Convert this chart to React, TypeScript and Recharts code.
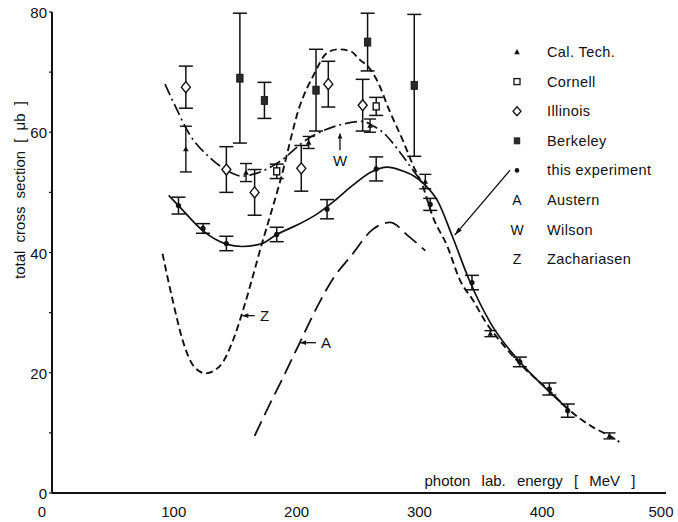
import React from "react"
import {
  ComposedChart,
  Line,
  Scatter,
  ErrorBar,
  XAxis,
  YAxis,
  ReferenceLine,
} from "recharts"

// measured cross sections: photon energy [MeV], sigma [μb], error [μb]
const expEnergy = [103, 123, 142, 183, 224, 264, 308, 342, 381, 405, 420]
const expSigma = [47.8, 44.0, 41.5, 43.0, 47.2, 53.9, 48.0, 35.0, 21.8, 17.3, 13.7]
const expError = [1.4, 0.8, 1.2, 1.2, 1.6, 2.0, 1.0, 1.2, 0.8, 1.0, 1.1]

const calTechEnergy = [109, 158, 209, 259, 304, 357, 454]
const calTechSigma = [57.2, 53.3, 58.3, 61.1, 51.8, 26.5, 9.5]
const calTechError = [3.8, 1.5, 1.0, 1.1, 1.2, 0.5, 0.5]

const cornellEnergy = [183, 264]
const cornellSigma = [53.5, 64.3]
const cornellError = [1.2, 1.5]

const illinoisEnergy = [109, 142, 165, 203, 225, 253]
const illinoisSigma = [67.5, 53.8, 50.0, 54.0, 68.0, 64.5]
const illinoisError = [3.5, 3.8, 3.8, 3.8, 3.8, 4.3]

const berkeleyEnergy = [153, 173, 215, 257, 295]
const berkeleySigma = [69.0, 65.3, 67.0, 75.0, 67.8]
const berkeleyError = [10.8, 3.0, 6.8, 4.8, 11.8]

// theory curves and fit
const fitEnergy = [95, 103, 123, 142, 155, 171, 183, 200, 215, 230, 245, 260, 273, 285, 294, 304, 314, 326, 340, 357, 381, 400, 420]
const fitSigma = [49.5, 47.8, 43.6, 41.4, 41.0, 41.5, 43.0, 44.6, 46.3, 48.6, 51.2, 53.4, 54.2, 53.6, 52.8, 51.2, 48.6, 42.7, 35.3, 28.3, 21.8, 17.8, 14.0]

const wilsonEnergy = [92, 100, 111, 129, 142, 155, 167, 183, 209, 234, 253, 262, 272, 281, 294, 302]
const wilsonSigma = [68, 64.5, 60, 55.7, 53.7, 52.7, 53.2, 54.8, 59, 61.2, 61.8, 61, 59.5, 57.3, 53.7, 51.5]

const zachEnergy = [90, 98, 107, 115, 125, 137, 148, 156, 171, 186, 202, 213, 224, 233, 243, 251, 257, 265, 275, 286, 294, 302, 310, 322, 332, 343, 353, 368, 381, 405, 420, 440, 454, 462]
const zachSigma = [39.8, 32.3, 25, 21.2, 19.9, 21.2, 25.7, 30.7, 41.5, 52, 64.5, 69.5, 73.2, 73.8, 73.5, 72, 71, 68.5, 63.5, 58.5, 54.5, 51, 46, 41, 35.5, 32, 28.5, 24.5, 21.5, 17, 14, 11, 9.5, 8.5]

const austernEnergy = [165, 175, 186, 202, 216, 230, 243, 261, 275, 291, 304]
const austernSigma = [9.5, 13.8, 18.3, 25.1, 31, 36, 39.3, 43.8, 45, 42.6, 40.3]

const xTicks = [0, 100, 200, 300, 400, 500]
const yTicks = [0, 10, 20, 30, 40, 50, 60, 70, 80]

const legendNames = ["Cal. Tech.", "Cornell", "Illinois", "Berkeley", "this experiment", "Austern", "Wilson", "Zachariasen"]

const FONT = "'Liberation Sans', Arial, sans-serif"
const INK = "#111"

const points = (e: number[], s: number[], err?: number[]) =>
  e.map((x, i) => ({ x, y: s[i], err: err ? err[i] : 0 }))

const expData = points(expEnergy, expSigma, expError)
const calTechData = points(calTechEnergy, calTechSigma, calTechError)
const cornellData = points(cornellEnergy, cornellSigma, cornellError)
const illinoisData = points(illinoisEnergy, illinoisSigma, illinoisError)
const berkeleyData = points(berkeleyEnergy, berkeleySigma, berkeleyError)
const fitData = points(fitEnergy, fitSigma)
const wilsonData = points(wilsonEnergy, wilsonSigma)
const zachData = points(zachEnergy, zachSigma)
const austernData = points(austernEnergy, austernSigma)

// marker glyphs
const Dot = ({ cx = 0, cy = 0 }: any) => <circle cx={cx} cy={cy} r={2.6} fill={INK} />
const Tri = ({ cx = 0, cy = 0 }: any) => (
  <polygon points={`${cx},${cy - 3} ${cx - 2.8},${cy + 2.2} ${cx + 2.8},${cy + 2.2}`} fill={INK} />
)
const OpenSquare = ({ cx = 0, cy = 0 }: any) => (
  <rect x={cx - 3} y={cy - 3.5} width={6} height={7} fill="#fff" stroke={INK} strokeWidth={1.4} />
)
const Diamond = ({ cx = 0, cy = 0 }: any) => (
  <polygon
    points={`${cx},${cy - 5.5} ${cx + 4.5},${cy} ${cx},${cy + 5.5} ${cx - 4.5},${cy}`}
    fill="#fff"
    stroke={INK}
    strokeWidth={1.4}
  />
)
const FilledSquare = ({ cx = 0, cy = 0 }: any) => (
  <rect x={cx - 3.2} y={cy - 4} width={6.4} height={8} fill="#2a2a2a" stroke={INK} strokeWidth={0.8} />
)

// arrow drawn along a reference segment, with an optional letter at its tail
const arrowShape = (text: string, tx: number, ty: number, head = 6) => (p: any) => {
  const { x1 = 0, y1 = 0, x2 = 0, y2 = 0 } = p
  const a = Math.atan2(y2 - y1, x2 - x1)
  const w = 2.4
  const bx = x2 - head * Math.cos(a)
  const by = y2 - head * Math.sin(a)
  const pts = `${x2},${y2} ${bx - w * Math.sin(a)},${by + w * Math.cos(a)} ${bx + w * Math.sin(a)},${by - w * Math.cos(a)}`
  return (
    <g>
      <line x1={x1} y1={y1} x2={x2} y2={y2} stroke={INK} strokeWidth={1.3} />
      <polygon points={pts} fill={INK} />
      {text ? (
        <text x={x1 + tx} y={y1 + ty} fontSize={15} fontFamily={FONT} fill={INK} textAnchor="middle">
          {text}
        </text>
      ) : null}
    </g>
  )
}

const YTick = (p: any) => {
  const v = p.payload?.value
  if (v % 20 !== 0) return <g />
  return (
    <text x={p.x} y={p.y} dy={6} textAnchor="end" fontSize={15} fontFamily={FONT} fill={INK}>
      {v}
    </text>
  )
}

// x labels sit slightly left of their ticks, the 0 clear of the axis
const XTick = (p: any) => {
  const v = p.payload?.value
  const shift = v === 0 ? -10 : v === 500 ? -5 : -1
  return (
    <text x={p.x + shift} y={p.y} dy={12} textAnchor="middle" fontSize={15} fontFamily={FONT} fill={INK}>
      {v}
    </text>
  )
}

const legendSymbols = [
  <polygon key="t" points="0,-3 -2.8,2.2 2.8,2.2" fill={INK} />,
  <rect key="c" x={-3} y={-3} width={6} height={6} fill="#fff" stroke={INK} strokeWidth={1.3} />,
  <polygon key="d" points="0,-4.5 4,0 0,4.5 -4,0" fill="#fff" stroke={INK} strokeWidth={1.3} />,
  <rect key="b" x={-3.2} y={-3.5} width={6.4} height={7} fill="#2a2a2a" />,
  <circle key="e" r={2.3} fill={INK} />,
  <text key="a" y={5} textAnchor="middle" fontSize={14}>A</text>,
  <text key="w" y={5} textAnchor="middle" fontSize={14}>W</text>,
  <text key="z" y={5} textAnchor="middle" fontSize={14}>Z</text>,
]

function Key() {
  return (
    <svg
      width={678}
      height={522}
      style={{ position: "absolute", left: 0, top: 0, pointerEvents: "none" }}
      fontFamily={FONT}
      fill={INK}
    >
      {legendNames.map((name, i) => {
        const y = 52 + i * 29.6
        return (
          <g key={name}>
            <g transform={`translate(517,${y})`}>{legendSymbols[i]}</g>
            <text x={547} y={y + 5} fontSize={14.5} letterSpacing={0.4}>
              {name}
            </text>
          </g>
        )
      })}
    </svg>
  )
}

export default function App() {
  return (
    <div style={{ position: "absolute", left: 0, top: 0, width: 678, height: 522, background: "#fff" }}>
      <ComposedChart width={678} height={522} margin={{ top: 12, right: 12, bottom: 0, left: 12 }}>
        <XAxis
          dataKey="x"
          type="number"
          domain={[0, 500]}
          ticks={xTicks}
          allowDataOverflow
          height={29}
          tickLine={false}
          tickMargin={6}
          axisLine={{ stroke: INK, strokeWidth: 2 }}
          tick={XTick}
          label={(props: any) => {
            const vb = props.viewBox || { x: 52, y: 493, width: 614 }
            return (
              <text
                x={vb.x + vb.width - 136}
                y={vb.y - 7}
                textAnchor="middle"
                fontSize={15}
                fontFamily={FONT}
                fill={INK}
                wordSpacing={7}
              >
                photon lab. energy [ MeV ]
              </text>
            )
          }}
        />
        <XAxis
          xAxisId="top"
          orientation="top"
          type="number"
          domain={[0, 500]}
          height={0}
          tick={false}
          tickLine={false}
          axisLine={{ stroke: INK, strokeWidth: 1.6 }}
        />
        <YAxis
          dataKey="y"
          type="number"
          domain={[0, 80]}
          ticks={yTicks}
          allowDataOverflow
          width={40}
          tickSize={3}
          tickMargin={2}
          tickLine={{ stroke: INK, strokeWidth: 1.2 }}
          axisLine={{ stroke: INK, strokeWidth: 2 }}
          tick={YTick}
          label={(props: any) => {
            const vb = props.viewBox || { x: 12, y: 12 }
            const cx = vb.x + 9
            const cy = 190
            return (
              <text
                x={cx}
                y={cy}
                transform={`rotate(-90 ${cx} ${cy})`}
                textAnchor="middle"
                dominantBaseline="middle"
                fontSize={15}
                fontFamily={FONT}
                fill={INK}
                wordSpacing={4}
              >
                total cross section [ μb ]
              </text>
            )
          }}
        />
        <YAxis
          yAxisId="right"
          orientation="right"
          type="number"
          domain={[0, 80]}
          width={0}
          tick={false}
          tickLine={false}
          axisLine={{ stroke: INK, strokeWidth: 1.6 }}
        />

        <Line data={austernData} dataKey="y" type="monotone" stroke={INK} strokeWidth={1.8} strokeDasharray="16 7" dot={false} isAnimationActive={false} />
        <Line data={zachData} dataKey="y" type="monotone" stroke={INK} strokeWidth={1.9} strokeDasharray="7 4" dot={false} isAnimationActive={false} />
        <Line data={wilsonData} dataKey="y" type="monotone" stroke={INK} strokeWidth={1.7} strokeDasharray="12 4 2 4" dot={false} isAnimationActive={false} />
        <Line data={fitData} dataKey="y" type="monotone" stroke={INK} strokeWidth={1.7} dot={false} isAnimationActive={false} />

        <Scatter data={berkeleyData} shape={<FilledSquare />} isAnimationActive={false}>
          <ErrorBar dataKey="err" direction="y" width={7} stroke={INK} strokeWidth={1.5} />
        </Scatter>
        <Scatter data={illinoisData} shape={<Diamond />} isAnimationActive={false}>
          <ErrorBar dataKey="err" direction="y" width={7} stroke={INK} strokeWidth={1.5} />
        </Scatter>
        <Scatter data={cornellData} shape={<OpenSquare />} isAnimationActive={false}>
          <ErrorBar dataKey="err" direction="y" width={7} stroke={INK} strokeWidth={1.5} />
        </Scatter>
        <Scatter data={calTechData} shape={<Tri />} isAnimationActive={false}>
          <ErrorBar dataKey="err" direction="y" width={6} stroke={INK} strokeWidth={1.4} />
        </Scatter>
        <Scatter data={expData} shape={<Dot />} isAnimationActive={false}>
          <ErrorBar dataKey="err" direction="y" width={7} stroke={INK} strokeWidth={1.5} />
        </Scatter>

        {/* curve labels */}
        <ReferenceLine segment={[{ x: 165, y: 29.5 }, { x: 155, y: 29.5 }]} shape={arrowShape("Z", 10, 5)} ifOverflow="visible" />
        <ReferenceLine segment={[{ x: 215, y: 25 }, { x: 202, y: 25 }]} shape={arrowShape("A", 10, 5)} ifOverflow="visible" />
        <ReferenceLine segment={[{ x: 234.5, y: 57 }, { x: 234.5, y: 59.8 }]} shape={arrowShape("W", 0, 16, 5)} ifOverflow="visible" />
        <ReferenceLine segment={[{ x: 373, y: 53.7 }, { x: 328, y: 42.9 }]} shape={arrowShape("", 0, 0, 8)} ifOverflow="visible" />
      </ComposedChart>
      <Key />
    </div>
  )
}
